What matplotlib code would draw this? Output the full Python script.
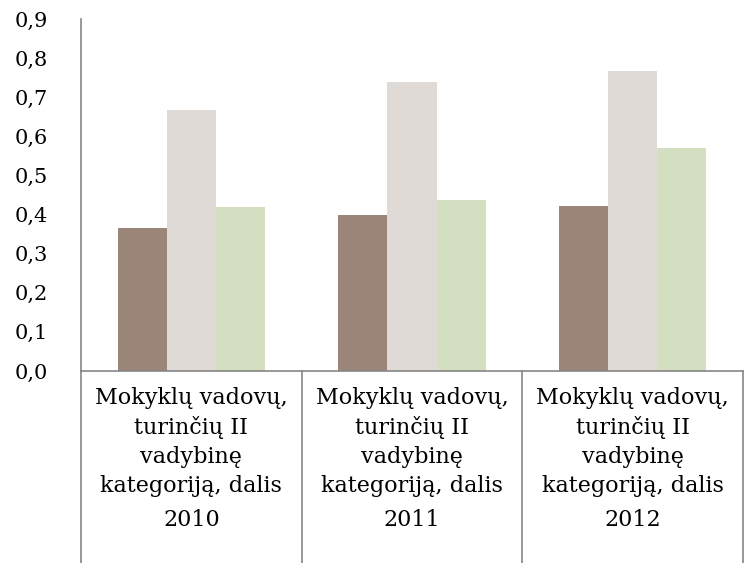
import matplotlib.pyplot as plt
import matplotlib.transforms as mtransforms
from matplotlib.lines import Line2D
import numpy as np

plt.rcParams['font.family'] = ['DejaVu Serif']

# data
years = ['2010', '2011', '2012']
category = 'Mokyklų vadovų,\nturinčių II\nvadybinę\nkategoriją, dalis'
series_a = [0.365, 0.400, 0.423]
series_b = [0.668, 0.739, 0.766]
series_c = [0.419, 0.437, 0.571]
colors = ['#9B8478', '#DFDAD6', '#D4DFC1']
yticks = np.arange(0, 0.91, 0.1)

fig = plt.figure(figsize=(7.48, 5.63), dpi=100)
W, H = 748, 563
ax = fig.add_axes([81 / W, (H - 371) / H, (743 - 81) / W, (371 - 19) / H])

x = np.arange(len(years))
bw = 1 / 4.5
for i, (vals, c) in enumerate(zip([series_a, series_b, series_c], colors)):
    ax.bar(x + (i - 1) * bw, vals, bw, color=c, edgecolor='none')

ax.set_xlim(-0.5, len(years) - 0.5)
ax.set_ylim(0, 0.9)
ax.set_yticks(yticks)
ax.set_yticklabels([f'{v:.1f}'.replace('.', ',') for v in yticks], fontsize=15)
ax.tick_params(axis='y', length=0, pad=24)
ax.set_xticks([])
for s in ['top', 'right']:
    ax.spines[s].set_visible(False)
for s in ['left', 'bottom']:
    ax.spines[s].set_color('#868686')
    ax.spines[s].set_linewidth(1.2)

# category separators extending below the axis
tr = mtransforms.blended_transform_factory(ax.transData, fig.transFigure)
for b in np.arange(-0.5, len(years), 1.0):
    fig.add_artist(Line2D([b, b], [0, (H - 371) / H], transform=tr,
                          color='#868686', lw=1.2))

for xi, yr in zip(x, years):
    ax.text(xi, 1 - 442 / H, category, transform=tr, ha='center', va='center',
            fontsize=16, linespacing=1.42)
    ax.text(xi, 1 - 520 / H, yr, transform=tr, ha='center', va='center',
            fontsize=16)

fig.savefig('out.png', dpi=100)
